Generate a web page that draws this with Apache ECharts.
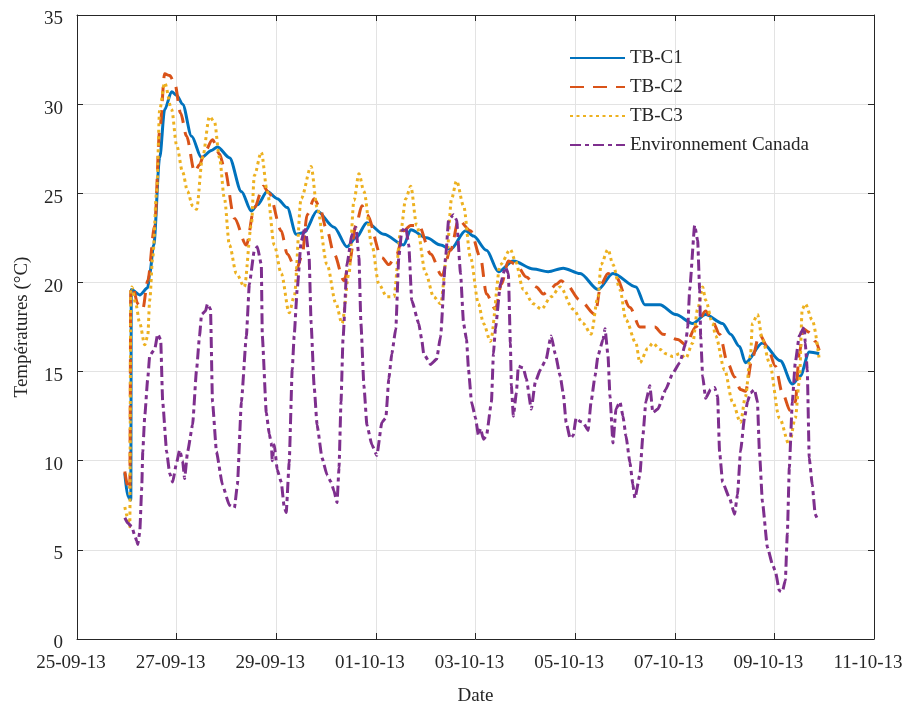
<!DOCTYPE html>
<html>
<head>
<meta charset="utf-8">
<script src="https://cdn.jsdelivr.net/npm/echarts/dist/echarts.min.js"></script>
<style>
html, body { margin: 0; padding: 0; background: #ffffff; overflow: hidden; }
#chart { width: 909px; height: 711px; }
</style>
</head>
<body>
<div id="chart"></div>
<script>
// Date tick labels, one every two days starting 25-09-13 (x = days since 25-09-13 00:00)
const dateLabels = ['25-09-13', '27-09-13', '29-09-13', '01-10-13', '03-10-13',
  '05-10-13', '07-10-13', '09-10-13', '11-10-13'];

const seriesNames = ['TB-C1', 'TB-C2', 'TB-C3', 'Environnement Canada'];

// [day, temperature °C]
const tbC1 = [
  [0.96, 9.3], [1.02, 8.0], [1.08, 7.8], [1.09, 19.6], [1.26, 19.3], [1.42, 19.7],
  [1.46, 20.5], [1.54, 22.1], [1.66, 27.0], [1.76, 29.7], [1.90, 30.7], [2.00, 30.5],
  [2.12, 30.0], [2.30, 28.2], [2.50, 27.0], [2.70, 27.4], [2.82, 27.6], [3.06, 27.0],
  [3.30, 25.1], [3.50, 24.0], [3.62, 24.35], [3.82, 25.1], [4.02, 24.7], [4.22, 24.2],
  [4.40, 22.7], [4.56, 22.8], [4.82, 24.0], [5.16, 23.1], [5.42, 22.0], [5.60, 22.5],
  [5.82, 23.35], [6.16, 22.7], [6.56, 22.1], [6.70, 22.95], [7.02, 22.5], [7.30, 22.1],
  [7.50, 21.85], [7.80, 22.9], [7.96, 22.6], [8.22, 21.8], [8.46, 20.6], [8.76, 21.2],
  [9.16, 20.75], [9.46, 20.6], [9.76, 20.8], [10.10, 20.5], [10.46, 19.6], [10.76, 20.5],
  [11.22, 19.75], [11.40, 18.75], [11.70, 18.75], [12.02, 18.2], [12.36, 17.7], [12.62, 18.2],
  [12.96, 17.7], [13.12, 17.1], [13.30, 16.4], [13.42, 15.5], [13.76, 16.6], [14.12, 15.6],
  [14.36, 14.3], [14.52, 14.75], [14.70, 16.1], [14.90, 16.0]
];

const tbC2 = [
  [0.96, 9.4], [1.02, 8.6], [1.06, 8.3], [1.08, 19.6], [1.12, 19.75], [1.22, 18.8],
  [1.32, 18.5], [1.42, 20.1], [1.56, 23.2], [1.66, 28.5], [1.76, 31.7], [1.86, 31.6],
  [1.96, 31.2], [2.08, 29.5], [2.20, 28.2], [2.36, 26.2], [2.46, 26.6], [2.56, 27.3],
  [2.72, 28.0], [2.86, 27.2], [2.96, 26.4], [3.16, 23.6], [3.40, 22.1], [3.56, 24.2],
  [3.74, 25.4], [3.86, 25.0], [4.10, 22.9], [4.22, 21.6], [4.40, 20.7], [4.52, 21.5],
  [4.62, 23.8], [4.76, 24.7], [4.86, 24.3], [5.02, 22.9], [5.16, 21.6], [5.36, 20.1],
  [5.46, 21.0], [5.60, 23.2], [5.72, 24.3], [5.82, 23.8], [6.12, 21.4], [6.26, 21.0],
  [6.42, 21.6], [6.56, 22.9], [6.70, 23.2], [6.86, 23.2], [7.10, 21.6], [7.32, 20.4],
  [7.50, 21.8], [7.66, 23.5], [7.90, 22.9], [8.10, 21.4], [8.22, 19.35], [8.40, 18.5],
  [8.52, 19.9], [8.66, 21.2], [8.82, 21.0], [9.02, 20.3], [9.22, 19.75], [9.36, 19.35],
  [9.50, 19.6], [9.62, 19.9], [9.72, 20.1], [9.82, 19.9], [10.10, 19.0], [10.40, 18.2],
  [10.52, 19.9], [10.66, 20.5], [10.82, 20.3], [11.10, 18.6], [11.30, 17.5], [11.60, 17.5],
  [11.76, 17.1], [12.06, 16.8], [12.22, 16.5], [12.42, 17.5], [12.62, 18.4], [12.76, 17.8],
  [12.90, 17.1], [13.06, 15.5], [13.20, 14.7], [13.32, 14.0], [13.42, 13.9], [13.56, 15.8],
  [13.70, 17.1], [13.86, 16.4], [14.02, 15.3], [14.16, 13.8], [14.32, 12.8], [14.42, 13.3],
  [14.50, 16.0], [14.58, 17.4], [14.70, 17.2], [14.82, 16.7], [14.90, 16.2]
];

const tbC3 = [
  [0.96, 7.4], [1.02, 6.8], [1.06, 6.3], [1.08, 19.5], [1.10, 19.75], [1.18, 18.8],
  [1.26, 17.7], [1.36, 16.5], [1.42, 17.0], [1.46, 19.0], [1.52, 21.4], [1.60, 25.1],
  [1.66, 29.7], [1.76, 31.2], [1.90, 29.7], [2.00, 27.7], [2.12, 26.2], [2.22, 25.1],
  [2.32, 24.3], [2.40, 24.1], [2.52, 27.0], [2.66, 29.3], [2.76, 29.0], [2.86, 27.0],
  [2.96, 24.7], [3.06, 22.1], [3.20, 20.5], [3.36, 19.75], [3.50, 23.2], [3.56, 26.0],
  [3.70, 27.3], [3.82, 25.1], [3.96, 22.1], [4.10, 20.5], [4.26, 18.3], [4.36, 19.2],
  [4.50, 24.7], [4.70, 26.5], [4.82, 24.2], [5.02, 21.0], [5.20, 18.8], [5.32, 17.7],
  [5.46, 20.5], [5.56, 24.6], [5.66, 26.1], [5.76, 25.1], [5.92, 22.1], [6.06, 19.9],
  [6.22, 19.2], [6.36, 19.2], [6.50, 22.9], [6.60, 24.7], [6.70, 25.4], [6.82, 23.2],
  [7.00, 20.5], [7.16, 19.2], [7.30, 18.8], [7.42, 21.4], [7.52, 24.7], [7.62, 25.7],
  [7.76, 24.3], [7.90, 21.4], [8.06, 18.8], [8.16, 17.7], [8.30, 16.7], [8.50, 21.0],
  [8.70, 21.85], [8.80, 21.2], [8.96, 19.6], [9.16, 18.8], [9.32, 18.5], [9.52, 19.2],
  [9.70, 19.75], [9.96, 18.5], [10.16, 17.7], [10.32, 17.1], [10.46, 19.2], [10.52, 21.0],
  [10.66, 21.85], [10.76, 21.0], [10.90, 19.6], [11.02, 17.9], [11.22, 16.6], [11.30, 15.5],
  [11.46, 16.3], [11.56, 16.6], [11.70, 16.25], [11.82, 16.0], [11.96, 15.85], [12.10, 16.0],
  [12.22, 15.75], [12.36, 16.6], [12.46, 18.5], [12.56, 19.75], [12.62, 19.0], [12.76, 17.7],
  [12.82, 17.0], [13.00, 15.1], [13.16, 13.3], [13.32, 12.15], [13.42, 13.6], [13.52, 15.9],
  [13.56, 17.7], [13.66, 18.2], [13.76, 16.8], [13.90, 15.5], [14.10, 12.4], [14.30, 10.9],
  [14.42, 12.4], [14.50, 14.4], [14.56, 18.5], [14.62, 18.8], [14.76, 17.9], [14.90, 15.7]
];

const envCanada = [
  [0.96, 6.8], [1.02, 6.5], [1.10, 6.3], [1.16, 5.8], [1.20, 5.5], [1.22, 5.3],
  [1.26, 6.0], [1.30, 8.5], [1.32, 10.5], [1.36, 12.5], [1.42, 14.6], [1.46, 15.9],
  [1.56, 16.25], [1.62, 17.1], [1.68, 16.8], [1.72, 13.3], [1.80, 10.5], [1.86, 9.3],
  [1.92, 8.8], [2.00, 9.9], [2.06, 10.6], [2.12, 10.0], [2.16, 9.0], [2.22, 10.5],
  [2.32, 12.0], [2.40, 15.1], [2.46, 17.0], [2.50, 18.2], [2.58, 18.4], [2.62, 18.8],
  [2.68, 18.5], [2.72, 13.3], [2.80, 10.5], [2.92, 8.65], [3.06, 7.5], [3.16, 7.35],
  [3.22, 8.65], [3.30, 13.3], [3.40, 17.0], [3.46, 19.9], [3.56, 21.8], [3.62, 22.0],
  [3.70, 21.0], [3.72, 17.0], [3.80, 12.7], [3.86, 11.5], [3.90, 11.0], [3.92, 10.0],
  [3.96, 10.9], [4.02, 9.5], [4.10, 8.8], [4.16, 7.4], [4.20, 7.1], [4.26, 9.9],
  [4.32, 15.1], [4.36, 17.0], [4.42, 19.6], [4.50, 22.3], [4.58, 23.1], [4.66, 21.4],
  [4.70, 17.7], [4.76, 14.2], [4.82, 12.0], [4.92, 10.15], [5.02, 9.2], [5.10, 8.8],
  [5.16, 8.3], [5.22, 7.65], [5.26, 9.6], [5.30, 13.3], [5.34, 16.8], [5.42, 21.0],
  [5.52, 22.7], [5.60, 23.1], [5.66, 21.4], [5.70, 17.7], [5.76, 14.2], [5.82, 12.0],
  [5.92, 10.9], [6.02, 10.3], [6.12, 12.15], [6.20, 12.4], [6.26, 14.6], [6.32, 16.0],
  [6.40, 17.4], [6.46, 21.4], [6.52, 22.9], [6.60, 23.1], [6.66, 22.1], [6.72, 19.0],
  [6.86, 17.7], [6.92, 16.8], [6.96, 16.0], [7.10, 15.4], [7.22, 15.7], [7.30, 17.0],
  [7.40, 21.4], [7.46, 23.5], [7.56, 23.8], [7.62, 23.5], [7.70, 20.5], [7.76, 17.7],
  [7.82, 16.8], [7.86, 15.1], [7.92, 13.3], [8.00, 12.4], [8.06, 11.4], [8.10, 11.8],
  [8.16, 11.2], [8.22, 11.4], [8.32, 13.3], [8.36, 16.0], [8.40, 17.4], [8.50, 19.9],
  [8.60, 20.85], [8.66, 20.5], [8.70, 16.6], [8.72, 14.2], [8.76, 12.5], [8.82, 13.8],
  [8.86, 15.3], [8.96, 15.2], [9.02, 14.6], [9.12, 12.9], [9.20, 14.4], [9.30, 15.1],
  [9.42, 15.7], [9.50, 16.8], [9.52, 17.0], [9.60, 16.0], [9.70, 14.75], [9.76, 13.8],
  [9.82, 12.15], [9.90, 11.25], [9.96, 11.4], [10.02, 12.4], [10.10, 12.2], [10.16, 12.15],
  [10.26, 11.7], [10.32, 13.3], [10.40, 14.75], [10.46, 15.9], [10.56, 16.8], [10.60, 17.4],
  [10.66, 15.9], [10.70, 13.6], [10.76, 11.0], [10.82, 12.9], [10.90, 13.3], [10.96, 12.5],
  [11.02, 11.4], [11.10, 9.9], [11.16, 8.65], [11.20, 7.9], [11.30, 9.2], [11.36, 11.4],
  [11.42, 13.3], [11.50, 14.2], [11.56, 12.7], [11.66, 12.9], [11.82, 14.0], [11.96, 14.9],
  [12.10, 15.5], [12.22, 16.6], [12.26, 17.5], [12.30, 19.6], [12.40, 23.2], [12.46, 22.35],
  [12.50, 19.6], [12.52, 17.0], [12.56, 14.75], [12.62, 13.5], [12.72, 14.0], [12.80, 14.1],
  [12.86, 13.6], [12.90, 10.5], [12.96, 8.8], [13.10, 7.9], [13.20, 7.0], [13.26, 8.1],
  [13.32, 10.5], [13.40, 12.4], [13.46, 13.3], [13.52, 13.8], [13.60, 14.0], [13.66, 13.3],
  [13.70, 10.5], [13.76, 7.7], [13.86, 5.15], [13.96, 4.2], [14.02, 3.8], [14.10, 2.7],
  [14.16, 2.65], [14.22, 3.3], [14.26, 5.9], [14.30, 9.6], [14.36, 13.3], [14.42, 15.5],
  [14.50, 17.0], [14.60, 17.5], [14.62, 16.6], [14.66, 15.1], [14.70, 10.15], [14.76, 8.65],
  [14.82, 7.0], [14.88, 6.6]
];

const FONT = 'Liberation Serif';
const INK = '#262626';
const GRID = '#e3e3e3';

const chart = echarts.init(document.getElementById('chart'), null, { renderer: 'canvas' });

// Frame axes (top / right) carry only ticks so the plot is boxed
function boxAxis(base, extra) {
  return Object.assign({
    type: 'value',
    axisLine: { show: true, onZero: false, lineStyle: { color: INK, width: 1 } },
    axisTick: { show: true, inside: true, length: 6, lineStyle: { color: INK, width: 1 } },
    splitLine: { show: false },
    axisLabel: { show: false }
  }, base, extra);
}

const xRange = { min: 0, max: 16, interval: 2 };
const yRange = { min: 0, max: 35, interval: 5 };

chart.setOption({
  animation: false,
  backgroundColor: '#ffffff',
  grid: { left: 77, right: 35, top: 15, bottom: 66, containLabel: false },
  legend: {
    data: seriesNames,
    orient: 'vertical',
    left: 569,
    top: 48,
    padding: 0,
    itemWidth: 55,
    itemHeight: 14,
    itemGap: 9,
    itemStyle: { opacity: 0 },
    textStyle: { fontFamily: FONT, fontSize: 19, color: INK, lineHeight: 20 }
  },
  xAxis: [
    boxAxis(xRange, {
      position: 'bottom',
      splitLine: { show: true, lineStyle: { color: GRID, width: 1 } },
      axisLabel: {
        show: true,
        formatter: v => dateLabels[Math.round(v / 2)],
        fontFamily: FONT, fontSize: 19, color: INK, margin: 15,
        padding: [0, 12, 0, 0]
      },
      name: 'Date',
      nameLocation: 'middle',
      nameGap: 48,
      nameTextStyle: { fontFamily: FONT, fontSize: 19, color: INK }
    }),
    boxAxis(xRange, { position: 'top' })
  ],
  yAxis: [
    boxAxis(yRange, {
      position: 'left',
      splitLine: { show: true, lineStyle: { color: GRID, width: 1 } },
      axisLabel: {
        show: true, margin: 14,
        formatter: v => '{t|' + v + '}',
        rich: { t: { fontFamily: FONT, fontSize: 19, color: INK, padding: [9, 0, 0, 0] } }
      },
      name: 'Températures (°C)',
      nameLocation: 'middle',
      nameGap: 45,
      nameRotate: 90,
      nameTextStyle: { fontFamily: FONT, fontSize: 19, color: INK }
    }),
    boxAxis(yRange, { position: 'right' })
  ],
  series: [
    {
      name: seriesNames[0], type: 'line', data: tbC1, showSymbol: false, symbol: 'none',
      smooth: 0.3, smoothMonotone: 'x',
      lineStyle: { color: '#0072BD', width: 3, type: 'solid' },
      itemStyle: { color: '#0072BD' }
    },
    {
      name: seriesNames[1], type: 'line', data: tbC2, showSymbol: false, symbol: 'none',
      smooth: 0.3, smoothMonotone: 'x',
      lineStyle: { color: '#D95319', width: 3, type: [14, 9] },
      itemStyle: { color: '#D95319' }
    },
    {
      name: seriesNames[2], type: 'line', data: tbC3, showSymbol: false, symbol: 'none',
      smooth: 0.3, smoothMonotone: 'x',
      lineStyle: { color: '#EDB120', width: 3, type: [3, 3.5] },
      itemStyle: { color: '#EDB120' }
    },
    {
      name: seriesNames[3], type: 'line', data: envCanada, showSymbol: false, symbol: 'none',
      smooth: 0.15, smoothMonotone: 'x',
      lineStyle: { color: '#7E2F8E', width: 3, type: [11, 4, 4, 4] },
      itemStyle: { color: '#7E2F8E' }
    }
  ]
});
</script>
</body>
</html>
